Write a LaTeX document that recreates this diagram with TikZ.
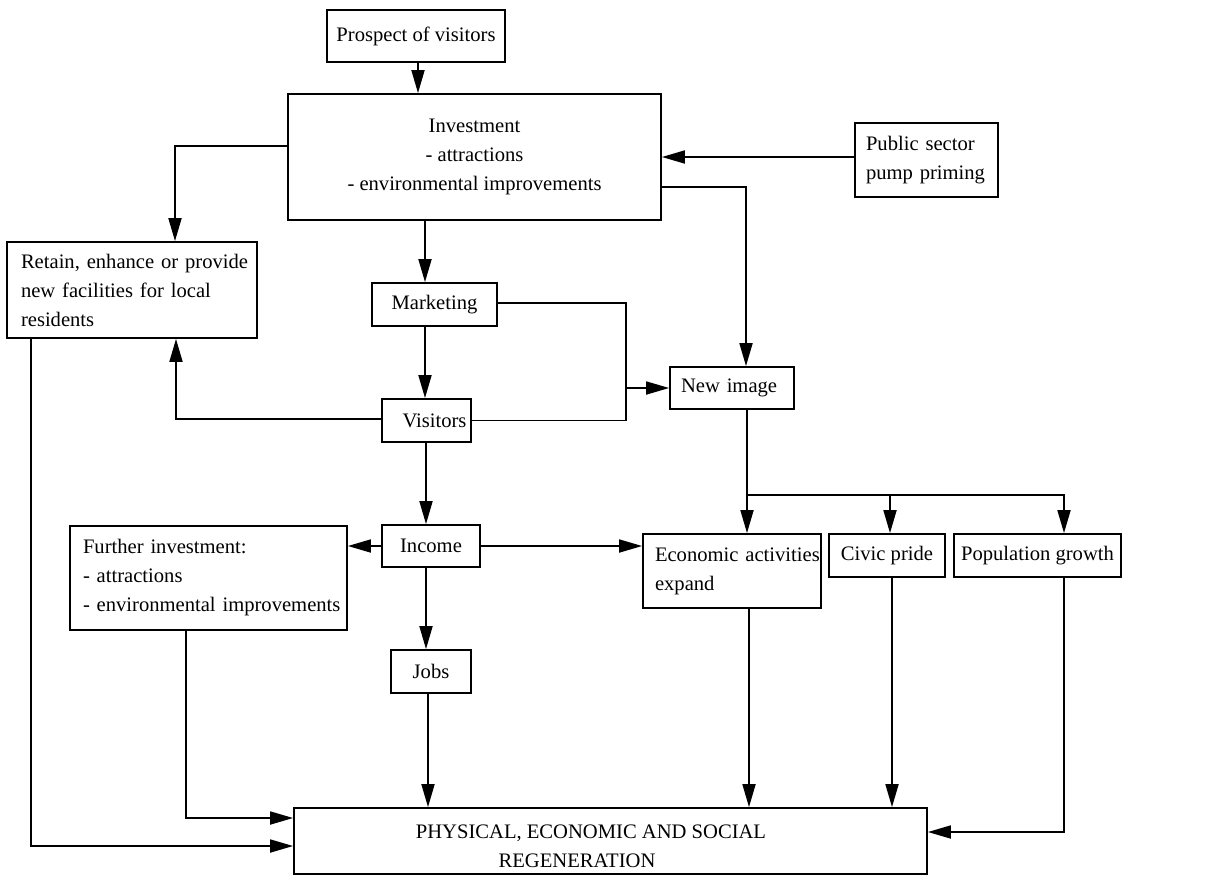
\documentclass[tikz,border=0pt]{standalone}
\usepackage{fontspec}
\setmainfont{Liberation Serif}
\usetikzlibrary{arrows.meta,calc}
\begin{document}
\begin{tikzpicture}[x=1pt,y=-1pt,
  font=\fontsize{20.6}{29}\selectfont,
  line width=1.8pt,
  box/.style={draw,rectangle,inner sep=0pt,align=center},
  lbox/.style={draw,rectangle,inner ysep=0pt,align=left},
  arr/.style={-{Triangle[length=23pt,width=13pt]}}]
\useasboundingbox (0,0) rectangle (1226,876);
% nodes
\node[box,minimum width=178pt,minimum height=52pt] (prospect) at (416,36) {Prospect of visitors};
\node[box,minimum width=373pt,minimum height=126pt] (invest) at (474.5,157) {Investment\\- attractions\\- environmental improvements};
\node[lbox,inner xsep=14pt,text width=222pt,minimum height=96pt] (retain) at (132,290) {\mbox{Retain, enhance or provide}\\\mbox{new facilities for local}\\\mbox{residents}};
\node[box,minimum width=125pt,minimum height=43pt] (market) at (434.5,304.5) {Marketing};
\node[box,minimum width=89pt,minimum height=43pt] (visitors) at (426.5,420.5) {\hspace*{16pt}Visitors};
\node[lbox,inner xsep=11pt,text width=102pt,minimum height=42pt] (newimg) at (732,388) {\mbox{New image}};
\node[lbox,inner xsep=11pt,text width=121pt,minimum height=74pt] (public) at (926.5,160) {\mbox{Public sector}\\\mbox{pump priming}};
\node[box,minimum width=98pt,minimum height=42pt] (income) at (431,546) {Income};
\node[lbox,inner xsep=13pt,text width=251pt,minimum height=104pt] (further) at (208.5,578) {\mbox{Further investment:}\\\mbox{- attractions}\\\mbox{- environmental improvements}};
\node[box,minimum width=80pt,minimum height=43pt] (jobs) at (431,671.5) {Jobs};
\node[lbox,inner xsep=12pt,text width=154pt,minimum height=74pt] (econ) at (732,571) {\mbox{Economic activities}\\\mbox{expand}};
\node[box,minimum width=116pt,minimum height=43pt] (civic) at (887,555.5) {Civic pride};
\node[box,minimum width=167pt,minimum height=43pt] (pop) at (1037.5,555.5) {Population growth};
\node[draw,rectangle,minimum width=633pt,minimum height=66pt] (regen) at (610.5,841) {};
\node[align=center,inner sep=0pt] (regentxt) at (591,846) {PHYSICAL, ECONOMIC AND SOCIAL\\REGENERATION\hspace*{28pt}};
% connectors
\coordinate (bj) at (626,388);
\coordinate (br) at (747,495);
\draw[arr] (prospect.south -| 418,0) -- (invest.north -| 418,0);
\draw[arr] (invest.west |- 0,146) -| (retain.north -| 175,0);
\draw[arr] (invest.south -| 425,0) -- (market.north -| 425,0);
\draw[arr] (public.west |- 0,157) -- (invest.east |- 0,157);
\draw[arr] (invest.east |- 0,187) -| (newimg.north -| 746,0);
\draw[arr] (market.south -| 425,0) -- (visitors.north -| 425,0);
\draw[arr] (visitors.west |- 0,419) -| (retain.south -| 176,0);
\draw (market.east |- 0,303) -| (visitors.east -| bj) -- (visitors.east);
\draw[arr] (bj) -- (newimg.west);
\draw[arr] (visitors.south -| 426,0) -- (income.north -| 426,0);
\draw[arr] (income.west) -- (further.east |- income.west);
\draw[arr] (income.east) -- (econ.west |- income.east);
\draw[arr] (income.south -| 426,0) -- (jobs.north -| 426,0);
\draw[arr] (jobs.south -| 428,0) -- (regen.north -| 428,0);
\draw[arr] (further.south -| 186,0) |- (regen.west |- 0,818);
\draw[arr] (retain.south -| 31,0) |- (regen.west |- 0,846);
\draw[arr] (newimg.south -| br) -- (econ.north -| br);
\draw[arr] (br) -| (civic.north -| 890,0);
\draw[arr] (br) -| (pop.north -| 1064,0);
\draw[arr] (econ.south -| 749,0) -- (regen.north -| 749,0);
\draw[arr] (civic.south -| 892,0) -- (regen.north -| 892,0);
\draw[arr] (pop.south -| 1064,0) |- (regen.east |- 0,832);
\end{tikzpicture}
\end{document}
